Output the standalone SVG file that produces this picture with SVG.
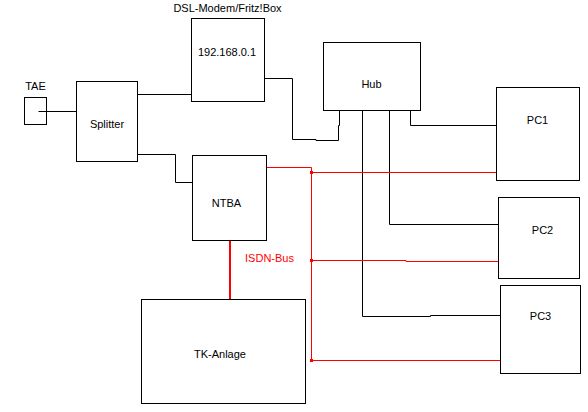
<svg xmlns="http://www.w3.org/2000/svg" width="588" height="412" viewBox="0 0 588 412">
<style>
.box{fill:#fff;stroke:#000;stroke-width:1}
.t{font-family:"Liberation Sans",Arial,sans-serif;font-size:11px;fill:#000;text-anchor:middle}
.w{fill:none;stroke:#000;stroke-width:1}
.r{fill:none;stroke:#f00;stroke-width:1}
.dot{fill:#f00}
</style>
<rect width="588" height="412" fill="#fff"/>
<g id="connectors">
<path class="w" d="M38.5,111.5H76.5"/>
<path class="w" d="M137.5,94.5H191.5"/>
<path class="w" d="M137.5,154.5H175.5V182.5H192.5"/>
<path class="w" d="M263.5,78.5H292.5V139.5H316V140.5H338.5V125.5H339.5V110.5"/>
<path class="w" d="M410.5,110.5V125.5H496.5"/>
<path class="w" d="M389.5,110V224.5H498.5"/>
<path class="w" d="M362.5,110.5V316.5H430.5V315.5H500.5"/>
<path class="r" d="M266.5,167.5H311.5V360.5H500.5"/>
<path class="r" d="M311.5,172.5H496.5"/>
<path class="r" d="M311.5,260.5H406V261.5H498.5"/>
<path fill="none" stroke="#f00" stroke-width="2" d="M230,240.5V299.5"/>
<rect class="dot" x="310" y="171" width="3" height="3"/>
<rect class="dot" x="310" y="259" width="3" height="3"/>
<rect class="dot" x="310" y="359" width="3" height="3"/>
<text x="269.5" y="262" font-family="Liberation Sans, Arial, sans-serif" font-size="11" fill="#f00" text-anchor="middle">ISDN-Bus</text>
</g>
<g id="tae">
<rect class="box" x="24.5" y="97.5" width="22" height="27"/>
<path class="w" d="M38.5,111.5H46.5"/>
<text class="t" x="35.5" y="90">TAE</text>
</g>
<g id="splitter">
<rect class="box" x="76.5" y="81.5" width="61" height="80"/>
<text class="t" x="107" y="128">Splitter</text>
</g>
<g id="modem">
<rect class="box" x="191.5" y="18.5" width="73" height="83"/>
<text class="t" x="227.5" y="12">DSL-Modem/Fritz!Box</text>
<text class="t" x="227" y="55.5">192.168.0.1</text>
</g>
<g id="hub">
<rect class="box" x="323.5" y="42.5" width="97" height="68"/>
<text class="t" x="371.5" y="88">Hub</text>
</g>
<g id="ntba">
<rect class="box" x="192.5" y="155.5" width="74" height="85"/>
<text class="t" x="226.5" y="207">NTBA</text>
</g>
<g id="tk">
<rect class="box" x="141.5" y="299.5" width="164" height="104"/>
<text class="t" x="220" y="358">TK-Anlage</text>
</g>
<g id="pc1">
<rect class="box" x="496.5" y="87.5" width="83" height="93"/>
<text class="t" x="537.5" y="124">PC1</text>
</g>
<g id="pc2">
<rect class="box" x="498.5" y="197.5" width="81" height="81"/>
<text class="t" x="542.5" y="234">PC2</text>
</g>
<g id="pc3">
<rect class="box" x="500.5" y="285.5" width="80" height="88"/>
<text class="t" x="540.5" y="320">PC3</text>
</g>
</svg>
